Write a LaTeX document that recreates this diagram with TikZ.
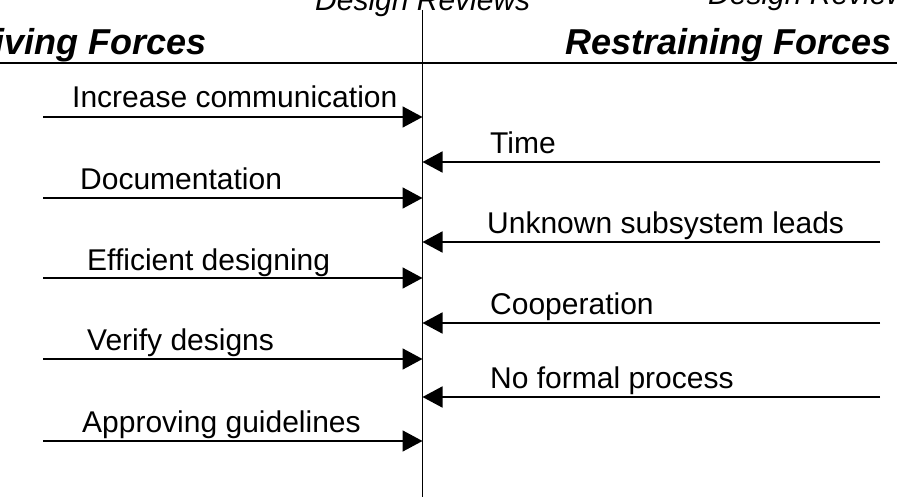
\documentclass[tikz,border=0pt]{standalone}
\usepackage{fontspec}
\setmainfont{Liberation Sans}
\usetikzlibrary{arrows.meta}
\begin{document}
\begin{tikzpicture}[x=1pt,y=-1pt,>={Triangle[length=20pt,width=21pt]},force/.style={line width=1.7pt,->},rule/.style={line width=1.7pt},lbl/.style={anchor=base west,inner sep=0pt,font=\fontsize{30}{35}\selectfont},head/.style={anchor=base east,inner sep=0pt,font=\fontsize{36}{42}\selectfont\bfseries\itshape},review/.style={anchor=base west,inner sep=0pt,font=\fontsize{30}{35}\selectfont\itshape}]
\useasboundingbox(0,0)rectangle(897,497);\clip(0,0)rectangle(897,497);
% headings
\node[review](rvL)at(315,11){Design Reviews};\node[review](rvR)at(708,5){Design Reviews};
\node[head](drive)at(207,55){Driving Forces};\node[head](restrain)at(892,55){Restraining Forces};
\coordinate(hl)at(0,63);\coordinate(hr)at(897,63);\draw[rule](hl)--(hr);
\coordinate(axtop)at(422.5,10);\coordinate(axbot)at(422.5,497);\draw[rule](axtop)--(axbot);
% driving forces
\foreach \n/\y/\lx/\ly/\t in {1/117/72/108/Increase communication,2/198/80/190/Documentation,3/278/87/270/Efficient designing,4/359/87/350/Verify designs,5/441/82/432/Approving guidelines}{\coordinate(ds\n)at(43,\y);\coordinate(de\n)at(axtop|-ds\n);\draw[force](ds\n)--(de\n);\node[lbl](dl\n)at(\lx,\ly){\t};}
% restraining forces
\foreach \n/\y/\lx/\ly/\t in {1/162/490/154/Time,2/242/487/234/Unknown subsystem leads,3/323/490/314/Cooperation,4/397/490/388/No formal process}{\coordinate(rs\n)at(880,\y);\coordinate(re\n)at(axtop|-rs\n);\draw[force](rs\n)--(re\n);\node[lbl](rl\n)at(\lx,\ly){\t};}
\end{tikzpicture}
\end{document}
